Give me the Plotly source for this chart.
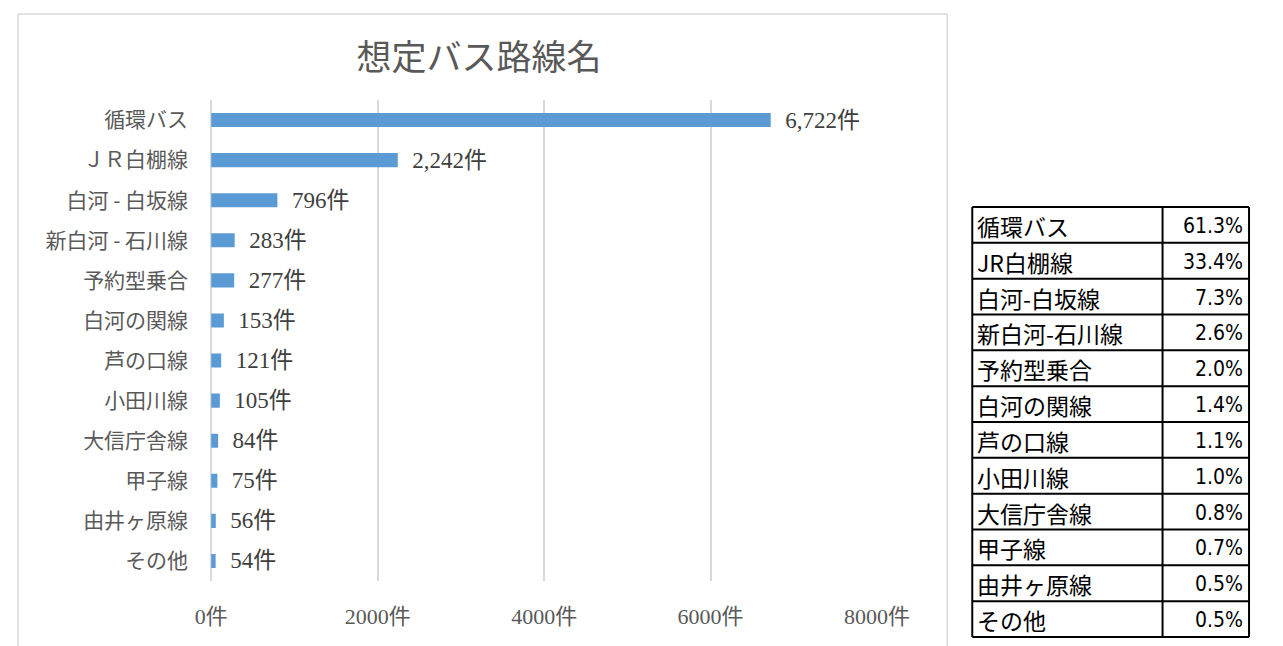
import plotly.graph_objects as go

W, H = 1283, 646

# ---- data ----
routes = ["循環バス", "ＪＲ白棚線", "白河 - 白坂線", "新白河 - 石川線", "予約型乗合", "白河の関線",
          "芦の口線", "小田川線", "大信庁舎線", "甲子線", "由井ヶ原線", "その他"]
counts = [6722, 2242, 796, 283, 277, 153, 121, 105, 84, 75, 56, 54]
x_ticks = [0, 2000, 4000, 6000, 8000]
x_tick_labels = [f"{v}件" for v in x_ticks]

table_names = ["循環バス", "JR白棚線", "白河-白坂線", "新白河-石川線", "予約型乗合", "白河の関線",
               "芦の口線", "小田川線", "大信庁舎線", "甲子線", "由井ヶ原線", "その他"]
table_pcts = [61.3, 33.4, 7.3, 2.6, 2.0, 1.4, 1.1, 1.0, 0.8, 0.7, 0.5, 0.5]

title_text = "想定バス路線名"

# ---- helpers ----
def px(x):
    return min(max(x, 0.5), W - 0.5) / W

def py(y):
    return 1 - y / H

SERIF = "Liberation Serif, Noto Sans CJK JP, serif"
GOTHIC = "Noto Sans CJK JP, sans-serif"
NARROW = "Liberation Sans Narrow, Arial Narrow, DejaVu Sans Condensed, Noto Sans CJK JP, sans-serif"
GREY = "#595959"

fig = go.Figure()

fig.add_trace(go.Bar(
    y=routes,
    x=counts,
    orientation="h",
    marker=dict(color="#5B9BD5", line=dict(width=0)),
    width=0.35,
    texttemplate="\u00a0\u00a0%{x:,}件",
    textposition="outside",
    constraintext="none",
    cliponaxis=False,
    textfont=dict(family=SERIF, size=23, color="#404040"),
    hoverinfo="skip",
))

# ---- frame around the chart (left, top, right edges; bottom is outside the view) ----
F_LEFT, F_RIGHT, F_TOP = 1, 968, 14
FRAME = dict(color="#D9D9D9", width=1.5)
shapes = [
    dict(type="line", xref="paper", yref="paper", x0=px(F_LEFT), x1=px(F_LEFT), y0=0, y1=py(F_TOP), line=FRAME),
    dict(type="line", xref="paper", yref="paper", x0=px(F_LEFT), x1=px(F_RIGHT), y0=py(F_TOP), y1=py(F_TOP), line=FRAME),
    dict(type="line", xref="paper", yref="paper", x0=px(F_RIGHT), x1=px(F_RIGHT), y0=0, y1=py(F_TOP), line=FRAME),
]

# ---- side table built from table_names / table_pcts ----
T_LEFT, T_MID, T_RIGHT = 994, 1192, 1282
T_TOP, T_BOTTOM = 207, 637
n_rows = len(table_names)
row_h = (T_BOTTOM - T_TOP) / n_rows
TLINE = dict(color="black", width=2)
for xl in (T_LEFT, T_MID, T_RIGHT):
    shapes.append(dict(type="line", xref="paper", yref="paper", x0=px(xl), x1=px(xl),
                       y0=py(T_BOTTOM), y1=py(T_TOP), line=TLINE))
for i in range(n_rows + 1):
    yl = T_TOP + i * row_h
    shapes.append(dict(type="line", xref="paper", yref="paper", x0=px(T_LEFT), x1=px(T_RIGHT),
                       y0=py(yl), y1=py(yl), line=TLINE))

annotations = []
for i, (name, pct) in enumerate(zip(table_names, table_pcts)):
    yc = T_TOP + (i + 0.5) * row_h
    annotations.append(dict(xref="paper", yref="paper", x=px(T_LEFT + 3), y=py(yc + 1),
                            xanchor="left", yanchor="middle", text=name, showarrow=False,
                            font=dict(family=GOTHIC, size=23, color="black")))
    annotations.append(dict(xref="paper", yref="paper", x=px(T_RIGHT - 4), y=py(yc + 1),
                            xanchor="right", yanchor="middle", text=f"{pct:.1f}%", showarrow=False,
                            font=dict(family=NARROW, size=21, color="black")))

fig.update_layout(
    width=W, height=H,
    margin=dict(l=0, r=0, t=0, b=0),
    paper_bgcolor="white",
    plot_bgcolor="white",
    showlegend=False,
    title=dict(
        text=title_text,
        x=px(479), xanchor="center",
        y=py(58), yanchor="middle", yref="paper",
        font=dict(family=GOTHIC, size=35, color=GREY),
    ),
    xaxis=dict(
        domain=[px(202), px(895)],
        range=[0, 8000],
        tickvals=x_ticks,
        ticktext=x_tick_labels,
        showgrid=True,
        gridcolor="#D9D9D9",
        gridwidth=1.5,
        zeroline=True,
        zerolinecolor="#D9D9D9",
        zerolinewidth=1.5,
        showline=False,
        ticks="",
        ticklabelstandoff=20,
        tickfont=dict(family=SERIF, size=22, color=GREY),
        fixedrange=True,
    ),
    yaxis=dict(
        domain=[py(581), py(100)],
        categoryorder="array",
        categoryarray=routes,
        autorange="reversed",
        showgrid=False,
        zeroline=False,
        showline=False,
        ticks="",
        ticklabelstandoff=22,
        tickfont=dict(family=GOTHIC, size=21, color=GREY),
        fixedrange=True,
    ),
    shapes=shapes,
    annotations=annotations,
)

fig.write_html("out.html")
